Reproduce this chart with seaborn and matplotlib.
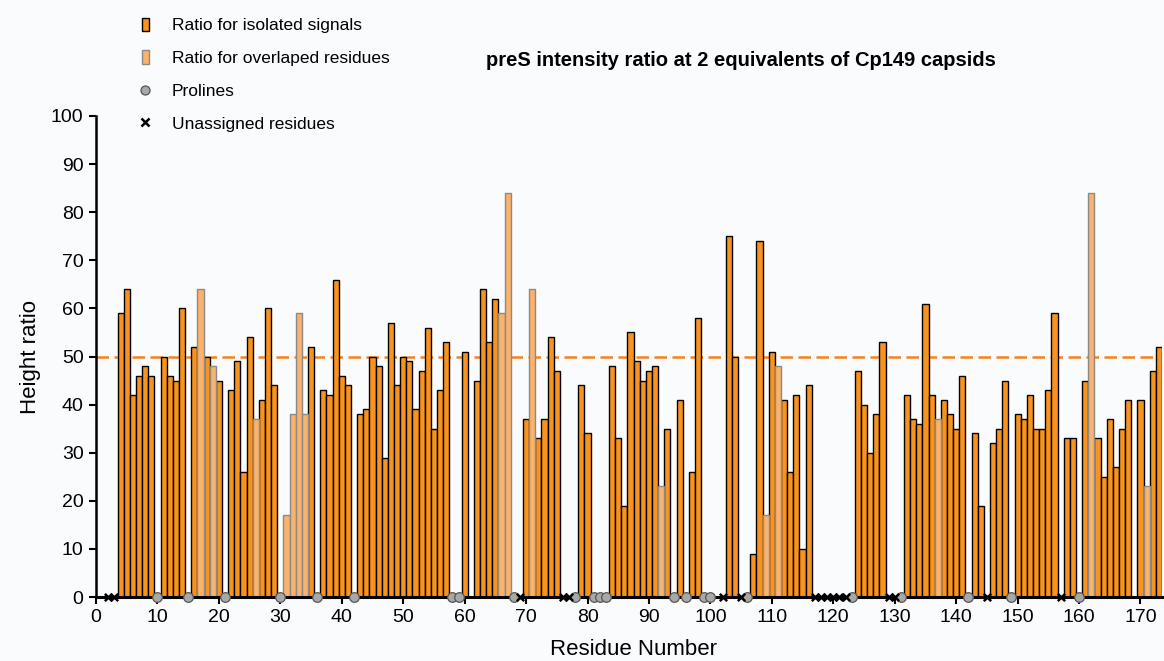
import matplotlib
matplotlib.use("Agg")
import matplotlib.pyplot as plt
from matplotlib.patches import Patch
from matplotlib.lines import Line2D
import seaborn as sns

# Residues with isolated (well-resolved) signals and their intensity ratio
isolated_residues = [4, 5, 6, 7, 8, 9, 11, 12, 13, 14, 16, 18, 20, 22, 23, 24, 25, 27, 28, 29,
                     35, 37, 38, 39, 40, 41, 43, 44, 45, 46, 47, 48, 49, 50, 51, 52, 53, 54, 55, 56, 57,
                     60, 62, 63, 64, 65, 70, 72, 73, 74, 75, 79, 80, 84, 85, 86, 87, 88, 89, 90, 91,
                     93, 95, 97, 98, 103, 104, 107, 108, 110, 112, 113, 114, 115, 116,
                     124, 125, 126, 127, 128, 132, 133, 134, 135, 136, 138, 139, 140, 141, 143, 144,
                     146, 147, 148, 150, 151, 152, 153, 154, 155, 156, 158, 159, 161, 163, 164, 165,
                     166, 167, 168, 170, 172, 173]
isolated_ratio = [59, 64, 42, 46, 48, 46, 50, 46, 45, 60, 52, 50, 45, 43, 49, 26, 54, 41, 60, 44,
                  52, 43, 42, 66, 46, 44, 38, 39, 50, 48, 29, 57, 44, 50, 49, 39, 47, 56, 35, 43, 53,
                  51, 45, 64, 53, 62, 37, 33, 37, 54, 47, 44, 34, 48, 33, 19, 55, 49, 45, 47, 48,
                  35, 41, 26, 58, 75, 50, 9, 74, 51, 41, 26, 42, 10, 44,
                  47, 40, 30, 38, 53, 42, 37, 36, 61, 42, 41, 38, 35, 46, 34, 19,
                  32, 35, 45, 38, 37, 42, 35, 35, 43, 59, 33, 33, 45, 33, 25, 37,
                  27, 35, 41, 41, 47, 52]

# Residues whose peaks overlap with others
overlap_residues = [17, 19, 26, 31, 32, 33, 34, 66, 67, 71, 92, 109, 111, 137, 162, 171]
overlap_ratio = [64, 48, 37, 17, 38, 59, 38, 59, 84, 64, 23, 17, 48, 37, 84, 23]

proline_residues = [10, 15, 21, 30, 36, 42, 58, 59, 68, 78, 81, 82, 83, 94, 96, 99, 100,
                    106, 123, 131, 142, 149, 160]
unassigned_residues = [2, 3, 69, 76, 77, 102, 105, 117, 118, 119, 120, 121, 122, 129, 130,
                       145, 157]

x_ticks = list(range(0, 171, 10))
y_ticks = list(range(0, 101, 10))
threshold = 50

title = "preS intensity ratio at 2 equivalents of Cp149 capsids"
legend_labels = ["Ratio for isolated signals", "Ratio for overlaped residues",
                 "Prolines", "Unassigned residues"]

DARK = "#F7931E"
LIGHT = "#FBB36C"
BG = "#f9fbfc"

sns.set_theme(style="ticks")
plt.rcParams["font.family"] = ["Liberation Sans", "DejaVu Sans"]
plt.rcParams.update({"text.color": "black", "axes.labelcolor": "black",
                     "xtick.color": "black", "ytick.color": "black"})

W, H = 1164, 661
fig = plt.figure(figsize=(W / 100, H / 100), dpi=100, facecolor=BG)
ax = fig.add_axes([96 / W, 64 / H, (1162 - 96) / W, (597 - 116) / H], facecolor=BG)

ax.axhline(threshold, color="#F5821F", lw=1.8, ls=(0, (5, 2.2)), zorder=1)

sns.barplot(x=isolated_residues, y=isolated_ratio, native_scale=True, width=1.0,
            color=DARK, saturation=1, edgecolor="black", linewidth=1.0,
            errorbar=None, ax=ax, zorder=2)
sns.barplot(x=overlap_residues, y=overlap_ratio, native_scale=True, width=1.0,
            color=LIGHT, saturation=1, edgecolor="#8a8a8a", linewidth=1.0,
            errorbar=None, ax=ax, zorder=2)

sns.scatterplot(x=proline_residues, y=[0] * len(proline_residues), marker="o", s=48,
                color="#a8a8a8", edgecolor="#555555", linewidth=0.9, zorder=6,
                clip_on=False, ax=ax)
sns.scatterplot(x=unassigned_residues, y=[0] * len(unassigned_residues), marker="x", s=28,
                color="black", linewidth=1.8, zorder=6, clip_on=False, ax=ax)

ax.set_xlim(0, 173.5)
ax.set_ylim(0, 100)
ax.set_xticks(x_ticks)
ax.set_xticklabels([str(t) for t in x_ticks])
ax.set_yticks(y_ticks)
ax.set_yticklabels([str(t) for t in y_ticks])
ax.tick_params(axis="both", direction="out", length=5, width=1.5, colors="black",
               labelsize=14, pad=4)

for side in ("top", "right"):
    ax.spines[side].set_visible(False)
ax.spines["left"].set_linewidth(1.8)
ax.spines["bottom"].set_linewidth(2.2)
ax.spines["left"].set_color("black")
ax.spines["bottom"].set_color("black")

ax.set_xlabel("Residue Number", fontsize=16)
ax.set_ylabel("Height ratio", fontsize=16)
ax.xaxis.set_label_coords((634 - 96) / 1066, -0.088)
ax.yaxis.set_label_coords(-0.052, 0.5)

handles = [
    Patch(facecolor=DARK, edgecolor="black", linewidth=1.0),
    Patch(facecolor=LIGHT, edgecolor="#8a8a8a", linewidth=1.0),
    Line2D([], [], ls="none", marker="o", markersize=6.5, markerfacecolor="#a8a8a8",
           markeredgecolor="#555555", markeredgewidth=0.9),
    Line2D([], [], ls="none", marker="x", markersize=6, color="black", markeredgewidth=1.8),
]
fig.legend(handles, legend_labels, loc="upper left", bbox_to_anchor=(142 / W, 1 - 17.5 / H),
           frameon=False, fontsize=12.5, handlelength=0.4, handleheight=0.85,
           handletextpad=1.3, labelspacing=0.97, borderpad=0, borderaxespad=0)

fig.text(741 / W, 1 - 60.5 / H, title, ha="center", va="center", fontsize=14.5,
         fontweight="bold")

fig.savefig("out.png", dpi=100, facecolor=BG)
